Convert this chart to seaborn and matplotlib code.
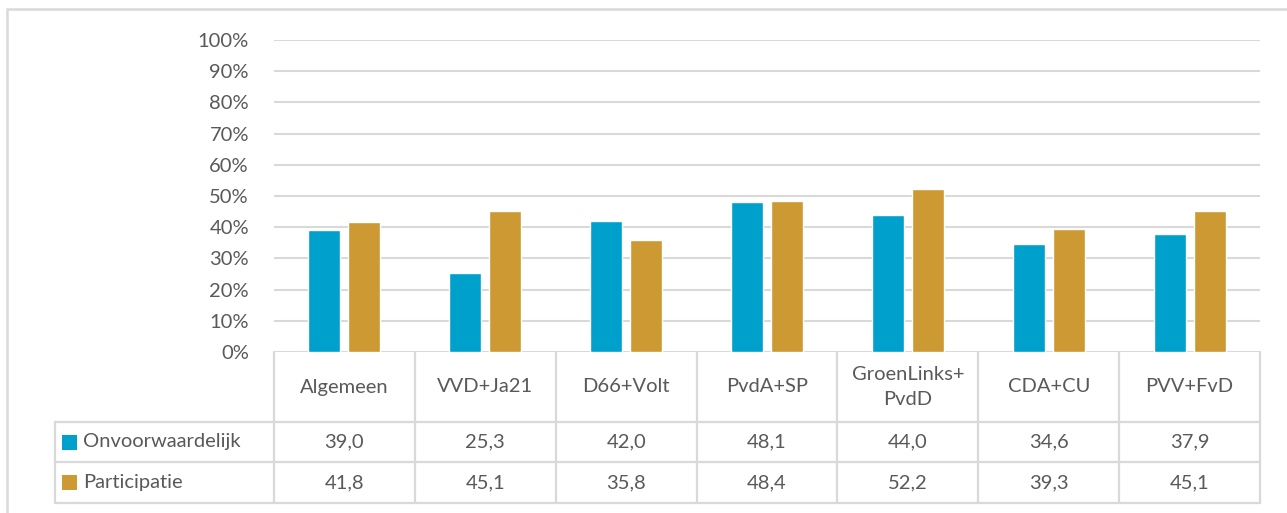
import matplotlib
matplotlib.use("Agg")
import matplotlib.pyplot as plt
import matplotlib.patches as mpatches
import seaborn as sns
import pandas as pd

categories = ["Algemeen", "VVD+Ja21", "D66+Volt", "PvdA+SP", "GroenLinks+\nPvdD", "CDA+CU", "PVV+FvD"]
onvoorwaardelijk = [39.0, 25.3, 42.0, 48.1, 44.0, 34.6, 37.9]
participatie = [41.8, 45.1, 35.8, 48.4, 52.2, 39.3, 45.1]
series = ["Onvoorwaardelijk", "Participatie"]
kleuren = ["#00A0CC", "#CC9933"]

df = pd.DataFrame({
    "partij": categories * 2,
    "reeks": [series[0]] * len(categories) + [series[1]] * len(categories),
    "waarde": onvoorwaardelijk + participatie,
})

sns.set_style("white")
plt.rcParams["font.family"] = ["Lato", "DejaVu Sans"]
tekst = "#595959"
lijn = "#D9D9D9"
fs = 14.5

fig = plt.figure(figsize=(12.87, 5.13), dpi=100)
ax = fig.add_axes([274 / 1287, 161 / 513, 986 / 1287, 312 / 513])

sns.barplot(data=df, x="partij", y="waarde", hue="reeks", palette=kleuren,
            width=0.568, gap=0.2, ax=ax, legend=False, saturation=1)

ax.set_ylim(0, 100)
ax.set_xlim(-0.5, len(categories) - 0.5)
ax.set_yticks(range(0, 101, 10))
ax.set_yticklabels([f"{t}%" for t in range(0, 101, 10)])
ax.set_xticks([])
ax.set_xlabel("")
ax.set_ylabel("")
ax.tick_params(axis="y", length=0, pad=18, labelsize=fs, labelcolor=tekst)
ax.yaxis.grid(True, color=lijn, linewidth=1.5)
ax.set_axisbelow(True)
for s in ax.spines.values():
    s.set_visible(False)

# datatabel onder de grafiek
tr = ax.get_xaxis_transform()
n = len(categories)
links = -0.5 - (274 - 55) / 141
y_kop = -(422 - 352) / 312
y_r1 = -(462 - 352) / 312
y_r2 = -(503 - 352) / 312
lw = 1.6
for k in range(n + 1):
    ax.plot([k - 0.5, k - 0.5], [0, y_r2], color=lijn, lw=lw, transform=tr, clip_on=False)
ax.plot([links, links], [y_kop, y_r2], color=lijn, lw=lw, transform=tr, clip_on=False)
for yy in [y_kop, y_r1, y_r2]:
    ax.plot([links, n - 0.5], [yy, yy], color=lijn, lw=lw, transform=tr, clip_on=False)

for i, cat in enumerate(categories):
    ax.text(i, (0 + y_kop) / 2, cat, ha="center", va="center", fontsize=fs,
            color=tekst, transform=tr, linespacing=1.55)
    ax.text(i, (y_kop + y_r1) / 2, f"{onvoorwaardelijk[i]:.1f}".replace(".", ","),
            ha="center", va="center", fontsize=fs, color=tekst, transform=tr)
    ax.text(i, (y_r1 + y_r2) / 2, f"{participatie[i]:.1f}".replace(".", ","),
            ha="center", va="center", fontsize=fs, color=tekst, transform=tr)

sq_w = 15 / 141
sq_h = 15 / 312
for naam, kleur, (y0, y1) in zip(series, kleuren, [(y_kop, y_r1), (y_r1, y_r2)]):
    yc = (y0 + y1) / 2
    ax.add_patch(mpatches.Rectangle((-0.5 - (274 - 62) / 141, yc - sq_h / 2), sq_w, sq_h,
                                    facecolor=kleur, edgecolor="none", transform=tr, clip_on=False))
    ax.text(-0.5 - (274 - 83) / 141, yc, naam, ha="left", va="center", fontsize=fs,
            color=tekst, transform=tr)

# kader rond de grafiek
fig.patches.append(mpatches.Rectangle((7 / 1287, -0.1), 1.2, (513 - 9) / 513 + 0.1,
                                      transform=fig.transFigure, fill=False,
                                      edgecolor=lijn, linewidth=1.8))

fig.savefig("out.png", dpi=100)
